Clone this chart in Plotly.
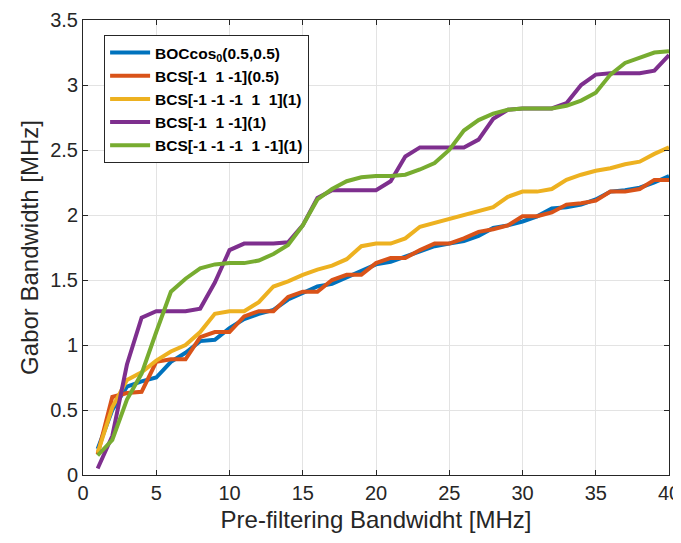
import plotly.graph_objects as go

x_mhz = list(range(1, 41))

names = [
    "BOCcos<sub>0</sub>(0.5,0.5)",
    "BCS[-1  1 -1](0.5)",
    "BCS[-1 -1 -1  1  1](1)",
    "BCS[-1  1 -1](1)",
    "BCS[-1 -1 -1  1 -1](1)",
]

boc_cos = [0.20, 0.50, 0.68, 0.72, 0.75, 0.87, 0.94, 1.03, 1.04, 1.13,
           1.20, 1.24, 1.27, 1.35, 1.40, 1.45, 1.47, 1.52, 1.57, 1.62,
           1.64, 1.68, 1.72, 1.76, 1.78, 1.80, 1.84, 1.90, 1.92, 1.95,
           1.99, 2.05, 2.06, 2.08, 2.12, 2.18, 2.19, 2.21, 2.25, 2.30]

bcs_a_05 = [0.16, 0.60, 0.63, 0.64, 0.87, 0.89, 0.89, 1.06, 1.10, 1.10,
            1.22, 1.26, 1.26, 1.37, 1.41, 1.41, 1.50, 1.54, 1.54, 1.63,
            1.67, 1.67, 1.73, 1.78, 1.78, 1.82, 1.87, 1.89, 1.92, 1.99,
            1.99, 2.02, 2.08, 2.09, 2.11, 2.18, 2.18, 2.20, 2.27, 2.27]

bcs_b_1 = [0.17, 0.52, 0.73, 0.79, 0.88, 0.95, 1.00, 1.10, 1.24, 1.26,
           1.26, 1.33, 1.45, 1.49, 1.54, 1.58, 1.61, 1.66, 1.76, 1.78,
           1.78, 1.82, 1.91, 1.94, 1.97, 2.00, 2.03, 2.06, 2.14, 2.18,
           2.18, 2.20, 2.27, 2.31, 2.34, 2.36, 2.39, 2.41, 2.47, 2.52]

bcs_a_1 = [0.05, 0.30, 0.85, 1.21, 1.26, 1.26, 1.26, 1.28, 1.48, 1.73,
           1.78, 1.78, 1.78, 1.79, 1.92, 2.13, 2.19, 2.19, 2.19, 2.19,
           2.26, 2.45, 2.52, 2.52, 2.52, 2.52, 2.58, 2.74, 2.81, 2.82,
           2.82, 2.82, 2.86, 3.00, 3.08, 3.09, 3.09, 3.09, 3.11, 3.23]

bcs_c_1 = [0.15, 0.27, 0.58, 0.78, 1.10, 1.41, 1.51, 1.59, 1.62, 1.63,
           1.63, 1.65, 1.70, 1.77, 1.92, 2.12, 2.20, 2.26, 2.29, 2.30,
           2.30, 2.31, 2.35, 2.40, 2.50, 2.65, 2.73, 2.78, 2.81, 2.82,
           2.82, 2.82, 2.84, 2.88, 2.94, 3.08, 3.17, 3.21, 3.25, 3.26]

series = [boc_cos, bcs_a_05, bcs_b_1, bcs_a_1, bcs_c_1]
colors = ["#0072BD", "#D95319", "#EDB120", "#7E2F8E", "#77AC30"]

x_ticks = [0, 5, 10, 15, 20, 25, 30, 35, 40]
y_ticks = [0, 0.5, 1, 1.5, 2, 2.5, 3, 3.5]
y_tick_labels = ["0", "0.5", "1", "1.5", "2", "2.5", "3", "3.5"]

fig = go.Figure()
for nm, ys, c in zip(names, series, colors):
    fig.add_trace(go.Scatter(x=x_mhz, y=ys, mode="lines", name=nm,
                             line=dict(color=c, width=4)))

FONT = "Liberation Sans, Arial, sans-serif"
axis_common = dict(
    showline=True, linecolor="#262626", linewidth=1, mirror="ticks",
    ticks="inside", ticklen=5, tickcolor="#262626",
    showgrid=True, gridcolor="#e3e3e3", gridwidth=1, zeroline=False,
    automargin=False,
    tickfont=dict(family=FONT, size=20, color="#262626"),
)

fig.update_xaxes(range=[0, 40], tickvals=x_ticks, **axis_common,
                 title=dict(text="Pre-filtering Bandwidht [MHz]", standoff=8,
                            font=dict(family=FONT, size=24, color="#262626")))
fig.update_yaxes(range=[0, 3.5], tickvals=y_ticks, ticktext=y_tick_labels, **axis_common,
                 title=dict(text="Gabor Bandwidth [MHz]", standoff=4,
                            font=dict(family=FONT, size=24, color="#262626")))

# the page body adds an 8px offset, so the figure is sized to fit the window
fig.update_layout(
    width=673, height=535,
    margin=dict(l=75, r=12, t=12, b=68),
    plot_bgcolor="white", paper_bgcolor="white",
    legend=dict(x=0.036, y=0.967, xanchor="left", yanchor="top",
                bgcolor="white", bordercolor="#262626", borderwidth=1,
                font=dict(family=FONT, size=15.5, color="black", weight="bold"),
                tracegroupgap=0, itemwidth=40),
)

fig.write_html("out.html")
